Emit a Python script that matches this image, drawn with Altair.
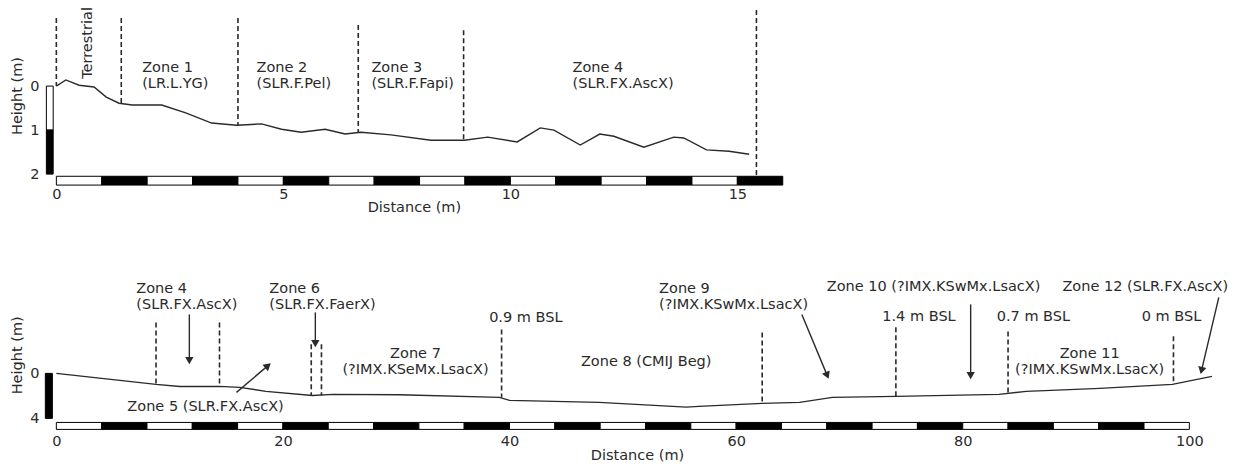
import altair as alt
import pandas as pd
import math

FONT = "DejaVu Sans"
FS = 14.5
INK = "#2a2a2a"

# ---------------- Top panel data ----------------
top_x = [0, 0.21, 0.5, 0.83, 1.10, 1.38, 1.67, 2.32, 2.85, 3.42, 3.97, 4.52, 4.96, 5.39,
         5.92, 6.36, 6.71, 7.37, 8.25, 8.99, 9.50, 10.15, 10.66, 10.96, 11.54, 11.97,
         12.28, 12.94, 13.60, 13.82, 14.32, 14.82, 15.26]
top_h = [0, -0.14, -0.02, 0.02, 0.25, 0.39, 0.43, 0.43, 0.61, 0.84, 0.89, 0.86, 0.98, 1.05,
         0.98, 1.09, 1.05, 1.11, 1.23, 1.23, 1.16, 1.27, 0.95, 1.00, 1.34, 1.09,
         1.14, 1.39, 1.16, 1.18, 1.45, 1.48, 1.55]

top_dash_x = [0, 1.43, 4.0, 6.65, 8.97, 15.42]
top_dash_y1 = [-1.55, -1.55, -1.55, -1.39, -1.27, -1.73]
top_dash_y2 = [0, 0.39, 0.89, 1.05, 1.23, 2.05]

top_zone_text = ["Zone 1\n(LR.L.YG)", "Zone 2\n(SLR.F.Pel)", "Zone 3\n(SLR.F.Fapi)", "Zone 4\n(SLR.FX.AscX)"]
top_zone_x = [1.89, 4.41, 6.94, 11.37]
top_zone_y = [-0.41, -0.41, -0.41, -0.41]

top_rot_text = ["Terrestrial"]
top_rot_x = [0.7]
top_rot_y = [-0.98]

top_bar_edges = list(range(0, 17, 1))      # 1 m blocks, 0-16 m
top_vbar_edges = [0, 1, 2]
top_vbar_x = [-0.22, -0.07]
top_bar_y = [2.05, 2.25]
top_xticks = [0, 5, 10, 15]
top_yticks = [0, 1, 2]

# ---------------- Bottom panel data ----------------
bot_x = [0, 8.8, 10.9, 14.4, 16.2, 18.5, 22.6, 24.4, 30.3, 39.1, 40.0, 47.9, 55.6, 56.7,
         62.3, 65.6, 68.5, 74.1, 83.2, 85.6, 92.1, 98.5, 102.0]
bot_h = [0, 0.98, 1.16, 1.16, 1.24, 1.6, 1.96, 1.87, 1.9, 2.13, 2.4, 2.58, 3.0, 2.93,
         2.67, 2.58, 2.13, 2.04, 1.87, 1.6, 1.33, 0.98, 0.27]

bot_dash_x = [8.8, 14.4, 22.5, 23.4, 39.3, 62.3, 74.1, 84.0, 98.6]
bot_dash_y1 = [-4.53, -4.53, -2.58, -2.58, -3.91, -3.64, -4.09, -3.73, -3.29]
bot_dash_y2 = [0.98, 1.16, 1.96, 1.96, 2.15, 2.67, 2.04, 1.87, 0.98]

bot_left_text = ["Zone 4\n(SLR.FX.AscX)", "Zone 6\n(SLR.FX.FaerX)", "Zone 9\n(?IMX.KSwMx.LsacX)",
                 "Zone 8 (CMIJ Beg)", "Zone 10 (?IMX.KSwMx.LsacX)", "Zone 12 (SLR.FX.AscX)",
                 "0.9 m BSL", "1.4 m BSL", "0.7 m BSL", "0 m BSL", "Zone 5 (SLR.FX.AscX)"]
bot_left_x = [7.06, 18.8, 53.2, 46.3, 68.0, 88.8, 38.2, 72.9, 83.0, 95.8, 6.27]
bot_left_y = [-7.47, -7.47, -7.47, -0.98, -7.64, -7.64, -4.89, -4.98, -4.98, -4.98, 3.02]

bot_center_text = ["Zone 7\n(?IMX.KSeMx.LsacX)", "Zone 11\n(?IMX.KSwMx.LsacX)"]
bot_center_x = [31.7, 91.2]
bot_center_y = [-1.69, -1.69]

arrow_x1 = [11.74, 15.9, 22.86, 65.8, 80.7, 102.6]
arrow_y1 = [-5.24, 1.69, -5.42, -5.24, -6.13, -6.76]
arrow_x2 = [11.74, 18.6, 22.86, 68.0, 80.7, 101.1]
arrow_y2 = [-1.24, -0.62, -2.76, 0.09, 0.09, -0.36]

bot_bar_edges = list(range(0, 101, 4))     # 4 m blocks, 0-100 m
bot_vbar_edges = [0, 4]
bot_vbar_x = [-0.97, -0.35]
bot_bar_y = [4.36, 4.98]
bot_xticks = [0, 20, 40, 60, 80, 100]
bot_yticks = [0, 4]


def panel(px_x, px_y, xdom, ydom, width, height, prof_x, prof_h, dx, dy1, dy2,
          bar_edges, bar_y, vbar_edges, vbar_x, xticks, yticks,
          left_txt, center_txt, rot_txt, arrows, vbar_start_white, xlabpad, xtitlepad):
    xs = alt.Scale(domain=xdom, nice=False, zero=False)
    ys = alt.Scale(domain=ydom, nice=False, zero=False, reverse=True)
    xaxis = alt.Axis(values=xticks, title="Distance (m)", labelPadding=xlabpad, titlePadding=xtitlepad)
    yaxis = alt.Axis(values=yticks, title="Height (m)", labelPadding=6, titlePadding=5)

    def X(f, **k):
        return alt.X(f, type="quantitative", scale=xs, axis=xaxis, **k)

    def Y(f, **k):
        return alt.Y(f, type="quantitative", scale=ys, axis=yaxis, **k)

    layers = []
    prof = pd.DataFrame({"x": prof_x, "h": prof_h})
    layers.append(alt.Chart(prof).mark_line(color=INK, strokeWidth=1.4).encode(
        x=X("x"), y=Y("h"), order="x:Q"))

    dash = pd.DataFrame({"x": dx, "y1": dy1, "y2": dy2})
    layers.append(alt.Chart(dash).mark_rule(color=INK, strokeWidth=1.6, strokeDash=[5, 3]).encode(
        x=X("x"), y=Y("y1"), y2="y2"))

    # horizontal scale bar
    hb = pd.DataFrame({"a": bar_edges[:-1], "b": bar_edges[1:], "i": list(range(len(bar_edges) - 1)),
                       "y1": [bar_y[0]] * (len(bar_edges) - 1), "y2": [bar_y[1]] * (len(bar_edges) - 1)})
    hb["shade"] = ["w" if i % 2 == 0 else "b" for i in hb["i"]]
    shade = alt.Color("shade:N", scale=alt.Scale(domain=["w", "b"], range=["white", "black"]), legend=None)
    layers.append(alt.Chart(hb).mark_rect(stroke="black", strokeWidth=1).encode(
        x=X("a"), x2="b", y=Y("y1"), y2="y2", color=shade))

    # vertical scale bar
    n = len(vbar_edges) - 1
    vb = pd.DataFrame({"a": vbar_edges[:-1], "b": vbar_edges[1:],
                       "x1": [vbar_x[0]] * n, "x2": [vbar_x[1]] * n})
    vb["shade"] = [("w" if (i % 2 == 0) == vbar_start_white else "b") for i in range(n)]
    layers.append(alt.Chart(vb).mark_rect(stroke="black", strokeWidth=1).encode(
        x=X("x1"), x2="x2", y=Y("a"), y2="b", color=shade))

    if arrows is not None:
        ax1, ay1, ax2, ay2 = arrows
        ang = []
        for a, b, c, d in zip(ax1, ay1, ax2, ay2):
            ddx = (c - a) * px_x
            ddy = (d - b) * px_y
            ang.append(math.degrees(math.atan2(ddx, -ddy)) % 360)
        ar = pd.DataFrame({"x1": ax1, "y1": ay1, "x2": ax2, "y2": ay2, "ang": ang})
        layers.append(alt.Chart(ar).mark_rule(color=INK, strokeWidth=1.4).encode(
            x=X("x1"), y=Y("y1"), x2="x2", y2="y2"))
        layers.append(alt.Chart(ar).mark_point(shape="triangle", filled=True, opacity=1,
                                               color=INK, size=70).encode(
            x=X("x2"), y=Y("y2"), angle=alt.Angle("ang:Q", scale=None)))

    if left_txt is not None:
        t, tx, ty = left_txt
        lt = pd.DataFrame({"t": t, "x": tx, "y": ty})
        layers.append(alt.Chart(lt).mark_text(align="left", baseline="middle", lineBreak="\n",
                                              lineHeight=15.5, font=FONT, fontSize=FS, color=INK).encode(
            x=X("x"), y=Y("y"), text="t:N"))
    if center_txt is not None:
        t, tx, ty = center_txt
        ct = pd.DataFrame({"t": t, "x": tx, "y": ty})
        layers.append(alt.Chart(ct).mark_text(align="center", baseline="middle", lineBreak="\n",
                                              lineHeight=15.5, font=FONT, fontSize=FS, color=INK).encode(
            x=X("x"), y=Y("y"), text="t:N"))
    if rot_txt is not None:
        t, tx, ty = rot_txt
        rt = pd.DataFrame({"t": t, "x": tx, "y": ty})
        layers.append(alt.Chart(rt).mark_text(align="center", baseline="middle", angle=270,
                                              font=FONT, fontSize=FS, color=INK).encode(
            x=X("x"), y=Y("y"), text="t:N"))

    return alt.layer(*layers).properties(width=width, height=height)


top_xdom = [-0.25, 16.0]
top_ydom = [-1.82, 2.25]
top_px_x, top_px_y = 45.4, 44.0
top = panel(top_px_x, top_px_y, top_xdom, top_ydom,
            (top_xdom[1] - top_xdom[0]) * top_px_x, (top_ydom[1] - top_ydom[0]) * top_px_y,
            top_x, top_h, top_dash_x, top_dash_y1, top_dash_y2,
            top_bar_edges, top_bar_y, top_vbar_edges, top_vbar_x, top_xticks, top_yticks,
            (top_zone_text, top_zone_x, top_zone_y), None,
            (top_rot_text, top_rot_x, top_rot_y), None, True, 2, 0)

bot_xdom = [-1.0, 103.5]
bot_ydom = [-8.3, 5.0]
bot_px_x, bot_px_y = 11.33, 11.25
bot = panel(bot_px_x, bot_px_y, bot_xdom, bot_ydom,
            (bot_xdom[1] - bot_xdom[0]) * bot_px_x, (bot_ydom[1] - bot_ydom[0]) * bot_px_y,
            bot_x, bot_h, bot_dash_x, bot_dash_y1, bot_dash_y2,
            bot_bar_edges, bot_bar_y, bot_vbar_edges, bot_vbar_x, bot_xticks, bot_yticks,
            (bot_left_text, bot_left_x, bot_left_y), (bot_center_text, bot_center_x, bot_center_y),
            None, (arrow_x1, arrow_y1, arrow_x2, arrow_y2), False, 5, 0)

chart = alt.vconcat(top, bot, spacing=64).resolve_scale(x="independent", y="independent", color="shared").properties(
    padding={"left": 9, "top": 6, "right": 5, "bottom": 2},
    background="white",
).configure_view(stroke=None).configure_axis(
    grid=False, domain=False, ticks=False,
    labelFont=FONT, titleFont=FONT, labelFontSize=FS, titleFontSize=FS,
    titleFontWeight="normal", labelColor=INK, titleColor=INK,
)

chart.save("out.html", embed_options={"renderer": "svg", "actions": False})
